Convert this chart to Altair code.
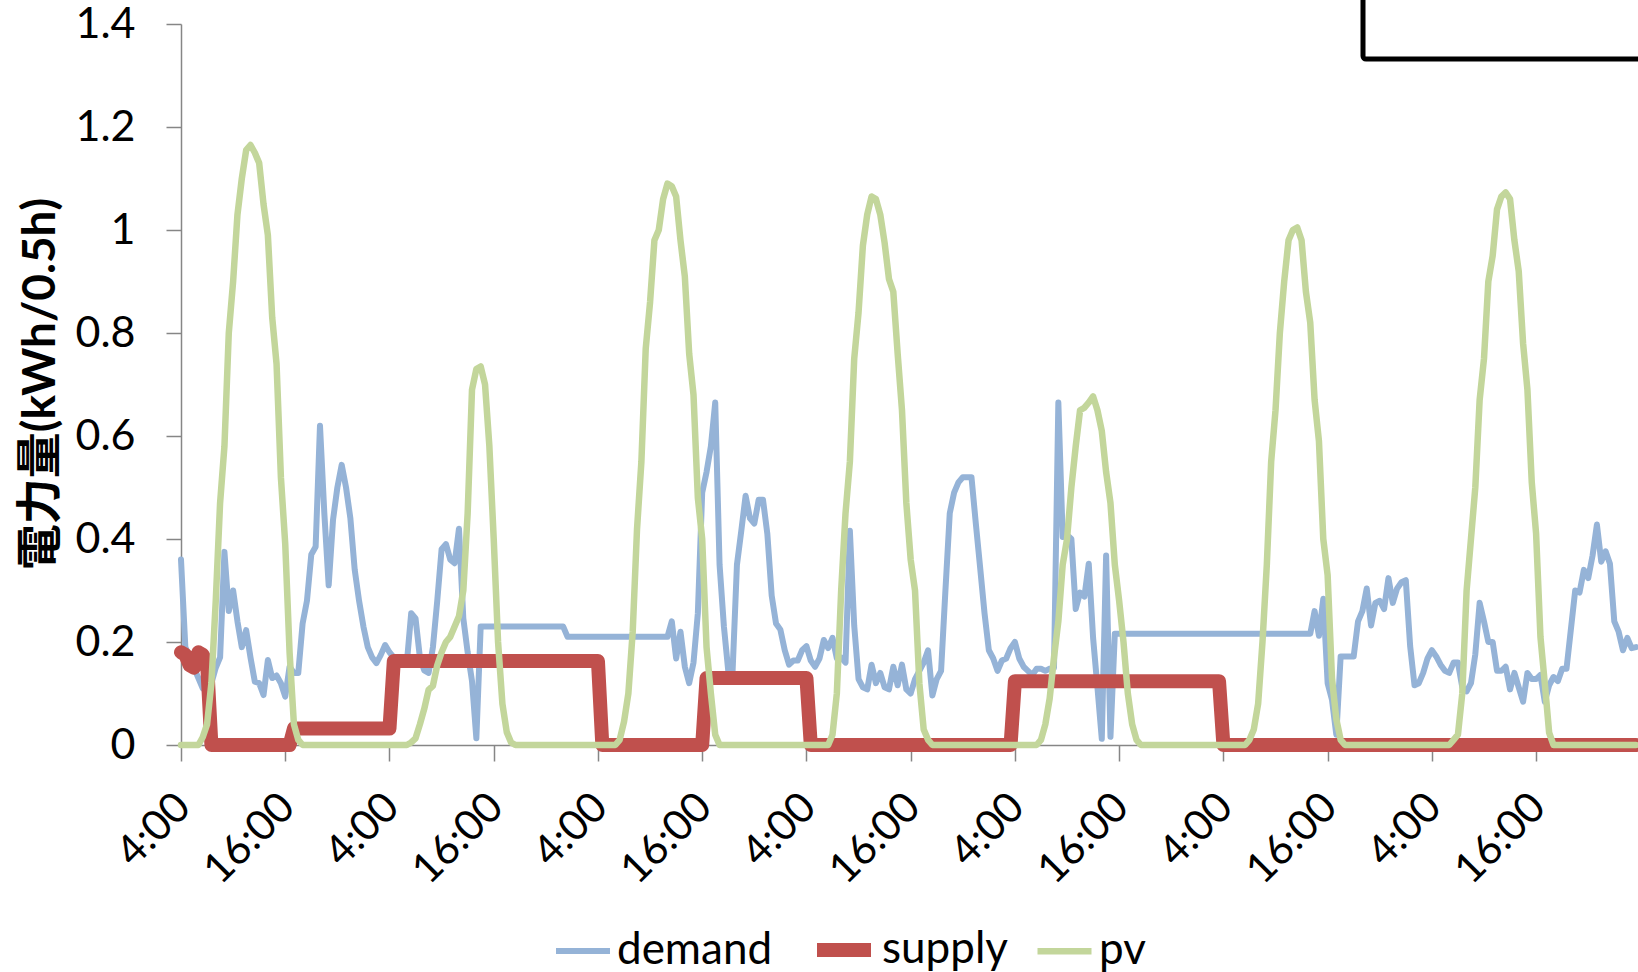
import altair as alt
import pandas as pd

# ---- data: 30-minute readings, 7 days starting at 4:00 (48 points per day) ----
demand_d1 = [0.36, 0.19, 0.17, 0.15, 0.13, 0.11, 0.12, 0.12, 0.15, 0.17, 0.375, 0.26, 0.30, 0.24, 0.19, 0.223,
             0.17, 0.123, 0.12, 0.097, 0.165, 0.13, 0.135, 0.12, 0.094, 0.152, 0.14, 0.14, 0.236, 0.28, 0.37, 0.385,
             0.62, 0.45, 0.31, 0.437, 0.50, 0.544, 0.50, 0.44, 0.34, 0.28, 0.23, 0.19, 0.17, 0.159, 0.175, 0.194]
demand_d2 = [0.18, 0.17, 0.165, 0.16, 0.16, 0.256, 0.246, 0.17, 0.145, 0.14, 0.19, 0.28, 0.38, 0.39, 0.36, 0.353,
             0.42, 0.246, 0.18, 0.124, 0.013, 0.23] + [0.23] * 19 + [0.21] * 7
demand_d3 = [0.21] * 17 + [0.24, 0.168, 0.22, 0.152, 0.12, 0.16, 0.256, 0.49, 0.53, 0.58, 0.665, 0.35, 0.23, 0.144,
                           0.144, 0.35, 0.416, 0.484, 0.44, 0.43, 0.476, 0.476, 0.41, 0.29, 0.236, 0.224, 0.184,
                           0.156, 0.164, 0.164, 0.184]
demand_d4 = [0.192, 0.164, 0.152, 0.168, 0.204, 0.188, 0.208, 0.168, 0.17, 0.16, 0.416, 0.232, 0.128, 0.112, 0.108,
             0.156, 0.12, 0.14, 0.112, 0.108, 0.152, 0.116, 0.156, 0.108, 0.1, 0.128, 0.144, 0.16, 0.184, 0.096,
             0.128, 0.144, 0.3, 0.45, 0.49, 0.51, 0.52, 0.52, 0.52, 0.43, 0.344, 0.256, 0.184, 0.168, 0.144, 0.164,
             0.168, 0.188]
demand_d5 = [0.2, 0.168, 0.152, 0.144, 0.136, 0.148, 0.148, 0.144, 0.148, 0.15, 0.665, 0.404, 0.408, 0.4, 0.264,
             0.296, 0.288, 0.352, 0.208, 0.112, 0.012, 0.368, 0.016, 0.216] + [0.216] * 24
demand_d6 = [0.216] * 21 + [0.26, 0.212, 0.284, 0.12, 0.088, 0.02, 0.172, 0.172, 0.172, 0.172, 0.24, 0.26, 0.304,
                            0.232, 0.276, 0.28, 0.264, 0.324, 0.276, 0.304, 0.316, 0.32, 0.192, 0.116, 0.12, 0.14,
                            0.168]
demand_d7 = [0.184, 0.172, 0.156, 0.144, 0.14, 0.16, 0.16, 0.112, 0.104, 0.12, 0.176, 0.276, 0.24, 0.2, 0.2, 0.144,
             0.144, 0.152, 0.108, 0.14, 0.112, 0.084, 0.14, 0.128, 0.128, 0.136, 0.084, 0.116, 0.132, 0.124, 0.148,
             0.148, 0.224, 0.3, 0.296, 0.34, 0.324, 0.368, 0.428, 0.356, 0.376, 0.352, 0.24, 0.22, 0.184, 0.208,
             0.188, 0.19]

supply_d1 = [0.18, 0.175, 0.155, 0.15, 0.18, 0.175, 0.16] + [0.0] * 19 + [0.032] * 22
supply_d2 = [0.032] + [0.163] * 47
supply_d3 = [0.163] + [0.0] * 24 + [0.13] * 23
supply_d4 = [0.13] + [0.0] * 47
supply_d5 = [0.124] * 48
supply_d6 = [0.0] * 48
supply_d7 = [0.0] * 48

pv_d1 = [0.0] * 5 + [0.015, 0.04, 0.12, 0.28, 0.47, 0.58, 0.8, 0.9, 1.03, 1.1, 1.155, 1.165, 1.15, 1.13, 1.05, 0.99,
                     0.83, 0.74, 0.52, 0.39, 0.18, 0.04, 0.01] + [0.0] * 20
pv_d2 = [0.0] * 5 + [0.005, 0.013, 0.04, 0.07, 0.107, 0.115, 0.155, 0.18, 0.2, 0.21, 0.23, 0.25, 0.3, 0.45, 0.69,
                     0.73, 0.735, 0.70, 0.58, 0.4, 0.2, 0.08, 0.025, 0.005] + [0.0] * 19
pv_d3 = [0.0] * 5 + [0.01, 0.045, 0.1, 0.22, 0.42, 0.55, 0.77, 0.86, 0.98, 1.0, 1.06, 1.09, 1.085, 1.065, 0.98, 0.91,
                     0.76, 0.68, 0.48, 0.4, 0.19, 0.1, 0.02] + [0.0] * 20
pv_d4 = [0.0] * 6 + [0.02, 0.1, 0.3, 0.45, 0.55, 0.75, 0.84, 0.97, 1.03, 1.065, 1.06, 1.03, 0.975, 0.905, 0.88, 0.76,
                     0.65, 0.47, 0.36, 0.3, 0.12, 0.03, 0.01] + [0.0] * 19
pv_d5 = [0.0] * 6 + [0.01, 0.04, 0.09, 0.17, 0.24, 0.35, 0.4, 0.5, 0.58, 0.65, 0.655, 0.665, 0.677, 0.65, 0.61, 0.53,
                     0.47, 0.35, 0.28, 0.2, 0.1, 0.04, 0.01] + [0.0] * 19
pv_d6 = [0.0] * 6 + [0.01, 0.03, 0.08, 0.2, 0.35, 0.55, 0.65, 0.8, 0.9, 0.98, 1.0, 1.005, 0.98, 0.88, 0.82, 0.67,
                     0.59, 0.4, 0.33, 0.13, 0.05, 0.01] + [0.0] * 20
pv_d7 = [0.0] * 5 + [0.01, 0.02, 0.1, 0.3, 0.4, 0.5, 0.67, 0.75, 0.9, 0.95, 1.04, 1.065, 1.073, 1.06, 0.98, 0.92,
                     0.78, 0.69, 0.51, 0.41, 0.21, 0.12, 0.024] + [0.0] * 20

demand = demand_d1 + demand_d2 + demand_d3 + demand_d4 + demand_d5 + demand_d6 + demand_d7
supply = supply_d1 + supply_d2 + supply_d3 + supply_d4 + supply_d5 + supply_d6 + supply_d7
pv = pv_d1 + pv_d2 + pv_d3 + pv_d4 + pv_d5 + pv_d6 + pv_d7

series_names = ["demand", "supply", "pv"]
series_colors = ["#95B3D7", "#C0504D", "#C3D69B"]
series_widths = [6, 14, 6.5]
tick_labels = ["4:00", "16:00"]
y_ticks = [0, 0.2, 0.4, 0.6, 0.8, 1.0, 1.2, 1.4]

rows = []
for name, vals in zip(series_names, [demand, supply, pv]):
    for i, v in enumerate(vals):
        rows.append({"slot": i, "kwh": v, "series": name})
df = pd.DataFrame(rows)
n = len(demand)

FONT = "Lato, 'Noto Sans CJK JP', sans-serif"
AXIS_GRAY = "#868686"

W, H = 1455, 721

legend = alt.Legend(
    orient="none", legendX=372, legendY=892, direction="horizontal", title=None,
    symbolType="stroke", symbolSize=2916, labelFont=FONT, labelFontSize=44, labelColor="black",
    labelOffset=4, columnPadding=16, labelLimit=500, padding=0,
)

x_enc = alt.X(
    "slot:Q",
    scale=alt.Scale(domain=[0, n - 1], nice=False, zero=False),
    axis=alt.Axis(
        values=list(range(0, n - 1, 24)),
        labelExpr=f"datum.value % 48 == 0 ? '{tick_labels[0]}' : '{tick_labels[1]}'",
        labelAngle=315, labelAlign="right", labelBaseline="middle",
        labelFont=FONT, labelFontSize=42, labelColor="black",
        labelPadding=39, labelOffset=2, tickSize=16, tickColor=AXIS_GRAY, tickWidth=1.5,
        domainColor=AXIS_GRAY, domainWidth=1.5, grid=False, title=None, labelOverlap=False,
    ),
)
y_enc = alt.Y(
    "kwh:Q",
    scale=alt.Scale(domain=[0, 1.4], nice=False),
    axis=alt.Axis(
        values=y_ticks, format=".1~f", labelFont=FONT, labelFontSize=43, labelColor="black",
        labelPadding=31, tickSize=15, tickColor=AXIS_GRAY, tickWidth=1.5,
        domainColor=AXIS_GRAY, domainWidth=1.5, grid=False,
        title="電力量(kWh/0.5h)", titleFont=FONT, titleFontSize=46, titleFontWeight="bold",
        titleColor="black", titleAngle=270, titleX=-141, titleY=H / 2 - 1,
        titleAlign="center", titleBaseline="middle",
    ),
)
color_enc = alt.Color("series:N", scale=alt.Scale(domain=series_names, range=series_colors), legend=legend)
width_enc = alt.StrokeWidth(
    "series:N", scale=alt.Scale(type="ordinal", domain=series_names, range=series_widths), legend=legend
)

layers = []
for s in series_names:
    layers.append(
        alt.Chart(df)
        .transform_filter(alt.datum.series == s)
        .mark_line(strokeJoin="round", strokeCap="round")
        .encode(x=x_enc, y=y_enc, color=color_enc, strokeWidth=width_enc)
    )

# partially visible framed box at the top-right corner of the original figure
box = alt.Chart(pd.DataFrame({"k": [0]})).mark_rect(
    fill="white", stroke="black", strokeWidth=5, cornerRadius=3
).encode(x=alt.value(1182), x2=alt.value(1500), y=alt.value(-60), y2=alt.value(35))

chart = alt.layer(*layers, box).properties(
    width=W, height=H,
    autosize=alt.AutoSizeParams(type="none"),
    padding={"left": 181, "top": 24, "right": 2, "bottom": 227},
    background="white",
).configure_view(stroke=None)

chart.save("out.html", embed_options={"renderer": "svg", "actions": False})
